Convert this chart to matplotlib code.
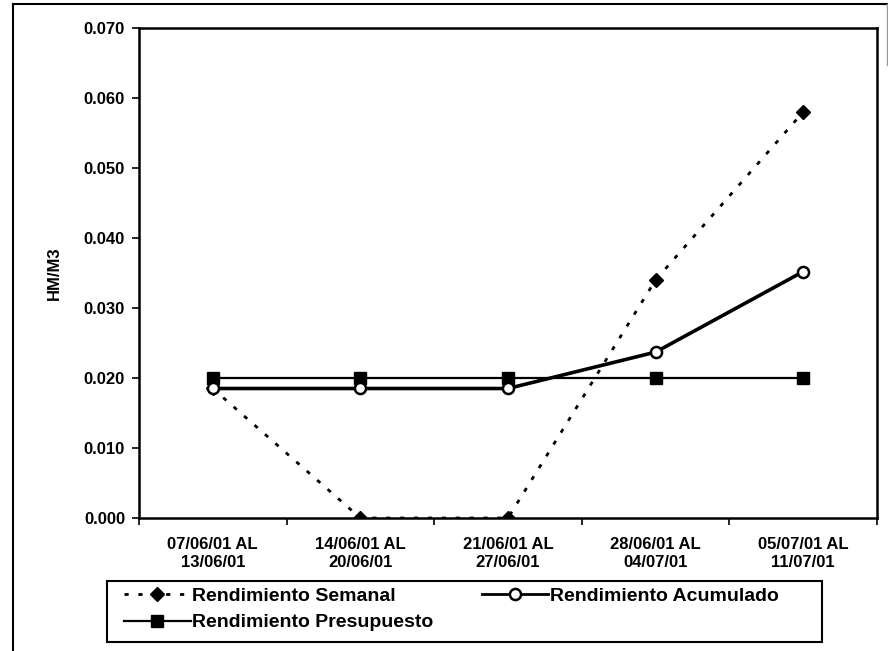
import matplotlib
matplotlib.use("Agg")
import matplotlib.pyplot as plt
from matplotlib.lines import Line2D
from matplotlib.patches import Rectangle
import numpy as np

plt.rcParams['font.family'] = ['Liberation Sans', 'DejaVu Sans']

# Weekly periods
periods = ["07/06/01 AL\n13/06/01", "14/06/01 AL\n20/06/01", "21/06/01 AL\n27/06/01",
           "28/06/01 AL\n04/07/01", "05/07/01 AL\n11/07/01"]
semanal = [0.0185, 0.000, 0.000, 0.034, 0.058]
acumulado = [0.0185, 0.0185, 0.0185, 0.0237, 0.0352]
presupuesto = [0.020, 0.020, 0.020, 0.020, 0.020]
y_ticks = [0.000, 0.010, 0.020, 0.030, 0.040, 0.050, 0.060, 0.070]

fig = plt.figure(figsize=(8.88, 6.51), dpi=100)
ax = fig.add_axes([0.1565, 0.2043, 0.8311, 0.7527])

x = np.arange(len(periods))
ax.plot(x, semanal, color='black', lw=2.0, ls=(0, (1.5, 3.5)), marker='D', ms=7,
        mfc='black', mec='black', zorder=2, label='Rendimiento Semanal')
ax.plot(x, presupuesto, color='black', lw=1.6, marker='s', ms=8,
        mfc='black', mec='black', zorder=3, label='Rendimiento Presupuesto')
ax.plot(x, acumulado, color='black', lw=2.6, marker='o', ms=8,
        mfc='white', mec='black', mew=1.8, zorder=4, label='Rendimiento Acumulado')

ax.set_xlim(-0.5, len(periods) - 0.5)
ax.set_ylim(0, 0.070)
ax.set_yticks(y_ticks)
ax.set_yticklabels([f"{v:.3f}" for v in y_ticks], fontsize=12, fontweight='bold')

# Category boundaries as tick marks, labels centred on categories
ax.set_xticks(np.arange(-0.5, len(periods), 1.0))
ax.set_xticklabels([])
ax.set_xticks(x, minor=True)
ax.set_xticklabels(periods, minor=True, fontsize=12, fontweight='bold', linespacing=1.25)
ax.tick_params(axis='x', which='major', direction='out', length=5, width=1.2)
ax.tick_params(axis='x', which='minor', length=0, pad=14)
ax.tick_params(axis='y', direction='out', length=5, width=1.2, pad=5)

for s in ax.spines.values():
    s.set_linewidth(1.8)

ax.set_ylabel("HM/M3", fontsize=12, fontweight='bold', labelpad=16)

# Legend: row-major order in two columns
h_sem = Line2D([], [], color='black', lw=2.0, ls=(0, (1.5, 3.5)), marker='D', ms=7, mfc='black')
h_acu = Line2D([], [], color='black', lw=2.0, marker='o', ms=8, mfc='white', mew=1.8)
h_pre = Line2D([], [], color='black', lw=1.6, marker='s', ms=8, mfc='black')
leg = fig.legend([h_sem, h_pre, h_acu],
                 ['Rendimiento Semanal', 'Rendimiento Presupuesto', 'Rendimiento Acumulado'],
                 ncol=2, loc='upper left', bbox_to_anchor=(0.127, 0.1155),
                 frameon=False, handlelength=3.4, handletextpad=0.1,
                 columnspacing=2.5, labelspacing=0.45, borderpad=0.1,
                 prop={'size': 14, 'weight': 'bold'})

# Legend frame and outer chart border
fig.patches.append(Rectangle((0.1205, 0.0138), 0.8052, 0.0937, transform=fig.transFigure,
                             fill=False, lw=1.5, ec='black'))
fig.add_artist(Line2D([0.0146, 0.0146], [0.0, 0.994], transform=fig.transFigure,
                      color='black', lw=1.5))
fig.add_artist(Line2D([0.0146, 0.999], [0.994, 0.994], transform=fig.transFigure,
                      color='black', lw=1.5))
fig.add_artist(Line2D([0.999, 0.999], [0.994, 0.90], transform=fig.transFigure,
                      color='#999999', lw=1.0))

fig.savefig("out.png", dpi=100)
